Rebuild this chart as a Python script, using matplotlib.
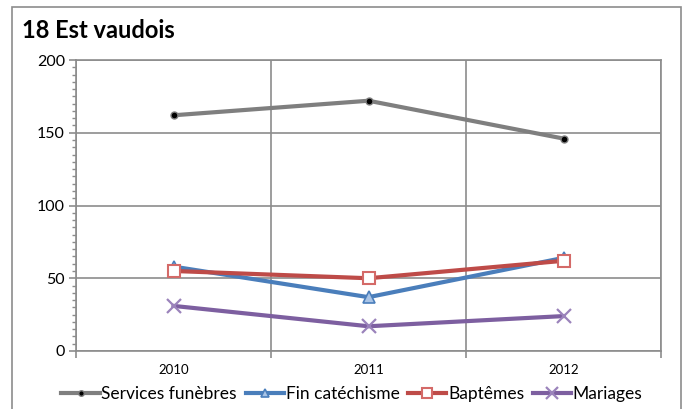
import matplotlib
matplotlib.use("Agg")
import matplotlib.pyplot as plt
from matplotlib.patches import Rectangle
from matplotlib.ticker import MultipleLocator

years = ["2010", "2011", "2012"]
services_funebres = [162, 172, 146]
fin_catechisme = [58, 37, 64]
baptemes = [55, 50, 62]
mariages = [31, 17, 24]

plt.rcParams['font.family'] = ['Lato', 'DejaVu Sans']

fig = plt.figure(figsize=(6.83, 4.09), dpi=100)
W, H = 683, 409
ax = fig.add_axes([76 / W, 1 - 351 / H, (661 - 76) / W, (351 - 60) / H])

# outer chart frame
fig.patches.append(Rectangle((12 / W, -0.05), (681 - 12) / W, 1 - 7 / H + 0.05,
                             transform=fig.transFigure, fill=False,
                             edgecolor='#8c8c8c', linewidth=1.2))

x = [i + 0.5 for i in range(len(years))]
ax.plot(x, services_funebres, color='#7f7f7f', lw=3, marker='o', ms=5,
        mfc='black', mec='#7f7f7f', mew=1, label='Services funèbres', zorder=3)
ax.plot(x, fin_catechisme, color='#4a7ebb', lw=3, marker='^', ms=8,
        mfc='#a9c4e6', mec='#4a7ebb', mew=1.2, label='Fin catéchisme', zorder=3)
ax.plot(x, baptemes, color='#be4b48', lw=3, marker='s', ms=9,
        mfc='white', mec='#d46a68', mew=1.5, label='Baptêmes', zorder=4)
ax.plot(x, mariages, color='#7d5fa0', lw=3, marker='x', ms=10,
        mec='#9b83bb', mew=1.6, label='Mariages', zorder=3)

ax.set_xlim(0, 3)
ax.set_ylim(0, 200)
ax.set_xticks([0, 1, 2, 3])
ax.set_xticklabels([])
ax.set_xticks(x, minor=True)
ax.set_xticklabels(years, minor=True, fontsize=9.5)
ax.tick_params(axis='x', which='minor', length=0, pad=9)
ax.tick_params(axis='x', which='major', length=5, color='#8c8c8c', width=1.2)
ax.yaxis.set_major_locator(MultipleLocator(50))
ax.yaxis.set_minor_locator(MultipleLocator(5))
ax.tick_params(axis='y', which='major', length=5, color='#8c8c8c', width=1.2,
               labelsize=11.5, pad=3)
ax.tick_params(axis='y', which='minor', length=3, color='#8c8c8c', width=1)
ax.grid(True, which='major', color='#8c8c8c', lw=1.2)
ax.set_axisbelow(True)
for side in ['left', 'bottom', 'right', 'top']:
    ax.spines[side].set_color('#8c8c8c')
    ax.spines[side].set_linewidth(1.2)

fig.text(22 / W, 1 - 30 / H, '18 Est vaudois', fontsize=17, fontweight='bold',
         va='center', ha='left')

fig.legend(loc='center', bbox_to_anchor=(352 / W, 1 - 394 / H), ncol=4,
           frameon=False, fontsize=12.5, handlelength=2.2, handletextpad=0.1,
           columnspacing=0.5, borderaxespad=0, markerscale=0.8)

fig.savefig('out.png', dpi=100)
